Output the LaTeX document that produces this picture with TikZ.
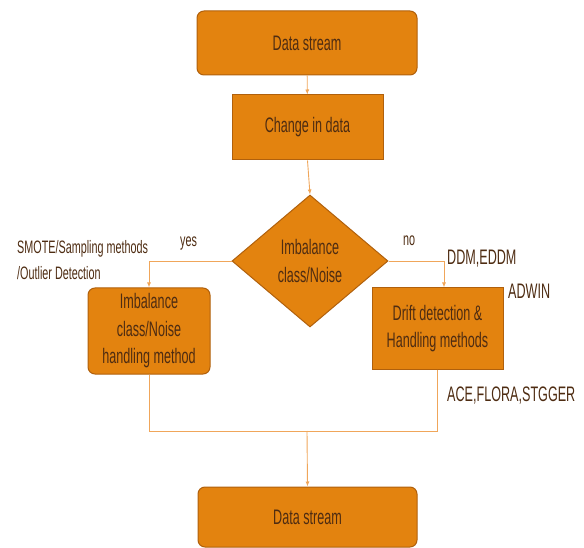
\documentclass[tikz,border=0pt]{standalone}
\usepackage{fontspec}
\setmainfont{Liberation Sans}[FakeStretch=0.6]
\usepackage{tikz}
\usetikzlibrary{arrows.meta,positioning,shapes.geometric}

\definecolor{boxfill}{HTML}{E3830F}
\definecolor{boxline}{HTML}{B0600C}
\definecolor{boxtext}{HTML}{4E2C12}
\definecolor{linkline}{HTML}{F0A65A}

\begin{document}
\begin{tikzpicture}[
  x=1pt, y=-1pt,
  font=\fontsize{21}{27.5}\selectfont,
  box/.style={draw=boxline, fill=boxfill, text=boxtext, align=center, line width=1pt, inner sep=2pt},
  roundbox/.style={box, rounded corners=7pt},
  note/.style={text=boxtext, font=\fontsize{18}{26}\selectfont, align=left, inner sep=0pt},
  bignote/.style={note, font=\fontsize{21}{26}\selectfont},
  arrow/.style={-{Latex[length=5pt,width=4pt]}, draw=linkline, line width=0.9pt},
  link/.style={draw=linkline, line width=0.9pt}
]
\useasboundingbox (0,0) rectangle (584,548);
\node[roundbox, minimum width=220pt, minimum height=64pt] (source) at (307,43) {Data stream};
\node[box, minimum width=151pt, minimum height=65pt] (change) at (307.5,127.5) {Change in data};
\node[box, diamond, minimum width=156pt, minimum height=132pt, inner sep=0pt] (check) at (310,261) {Imbalance\\class/Noise};
\node[roundbox, minimum width=122pt, minimum height=86pt] (imbal) at (149,331) {Imbalance\\class/Noise\\handling method};
\node[box, minimum width=131pt, minimum height=81pt] (drift) at (437.5,328.5) {Drift detection \&\\Handling methods};
\node[roundbox, minimum width=219pt, minimum height=60pt] (sink) at (307.5,517) {Data stream};

% labels
\node[note, anchor=west] (smote) at (17,260) {SMOTE/Sampling methods\\/Outlier Detection};
\node[note, anchor=west] (yes) at (180,244) {yes};
\node[note, anchor=west] (no) at (403,241) {no};
\node[bignote, anchor=west] (ddm) at (447,259) {DDM,EDDM};
\node[bignote, anchor=west] (adwin) at (508,291) {ADWIN};
\node[bignote, anchor=west] (ace) at (447,396) {ACE,FLORA,STGGER};

% connectors
\coordinate (join) at (307,431);
\draw[arrow] (source) -- (change);
\draw[arrow] (change.south) -- (check.north);
\draw[arrow] (check.west) -| (imbal.north);
\draw[arrow] (check.east) -| ([xshift=6.5pt]drift.north);
\draw[link] (imbal.south) |- (join);
\draw[link] (drift.south) |- (join);
\draw[arrow] (join) -- (sink.north);
\end{tikzpicture}
\end{document}
